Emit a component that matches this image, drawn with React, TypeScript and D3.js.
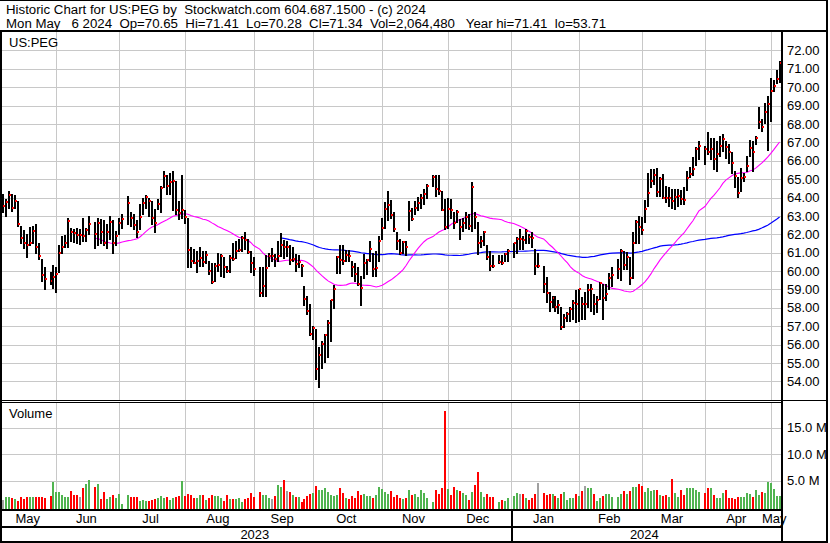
import { useEffect, useRef } from 'react'
import * as d3 from 'd3'

const WIDTH = 830
const HEIGHT = 543
const FONT = "'Liberation Sans', Arial, sans-serif"

// first and last weekday shown; every weekday gets a slot, holidays stay empty
const FIRST_DAY = new Date(2023, 4, 8)
const LAST_DAY = new Date(2024, 4, 6)
const HOLIDAYS = [
  '2023-05-29', '2023-06-19', '2023-07-04', '2023-09-04', '2023-11-23',
  '2023-12-25', '2024-01-01', '2024-01-15', '2024-02-19', '2024-03-29',
]

const MONTH_LABELS = ['May', 'Jun', 'Jul', 'Aug', 'Sep', 'Oct', 'Nov', 'Dec', 'Jan', 'Feb', 'Mar', 'Apr', 'May']
const YEAR_LABELS = ['2023', '2024']
const PRICE_TICKS = [54, 55, 56, 57, 58, 59, 60, 61, 62, 63, 64, 65, 66, 67, 68, 69, 70, 71, 72]
const VOLUME_TICKS = [5, 10, 15]

// one value per trading day, a line per month
const highs = [
  64.2, 63.9, 64.35, 64.2, 64.15, 63.8, 62.45, 62.25, 62.0, 62.4, 62.45, 62.55, 61.55, 60.65, 60.2, 59.95, 60.35,
  60.2, 61.4, 61.9, 61.95, 62.9, 62.35, 62.3, 62.35, 62.3, 62.9, 62.35, 63.0, 62.65, 62.9, 62.85, 62.75, 62.55, 63.0, 62.75, 62.2, 62.9,
  63.1, 64.1, 63.2, 63.1, 62.75, 63.65, 64.0, 64.15, 64.0, 63.8, 63.35, 63.9, 64.65, 65.45, 65.25, 65.35, 65.45, 64.9, 63.8, 65.2,
  63.3, 62.9, 61.3, 61.2, 61.1, 61.3, 61.1, 61.1, 60.55, 60.45, 60.45, 61.0, 60.95, 60.75, 60.3, 60.85, 61.55, 61.65, 61.75, 61.9, 62.1, 61.75, 61.1,
  60.75, 60.2, 60.2, 60.85, 61.0, 61.25, 60.9, 61.65, 62.05, 61.7, 61.65, 61.4, 61.3, 60.9, 60.85, 60.4, 59.2, 58.65, 58.2, 57.0,
  56.85, 55.85, 56.2, 56.6, 57.35, 58.45, 59.25, 60.8, 61.4, 61.4, 61.15, 61.15, 60.55, 60.45, 60.2, 59.75, 60.95, 60.65, 61.65, 61.0, 61.1, 61.9,
  62.9, 63.75, 64.35, 63.85, 63.2, 62.15, 61.75, 61.65, 61.65, 63.8, 63.45, 63.8, 64.05, 64.2, 64.45, 64.75, 65.2, 65.25, 65.25, 64.35, 63.9,
  64.0, 63.9, 63.2, 63.3, 62.85, 62.9, 63.2, 63.1, 64.85, 63.2, 62.65, 61.9, 62.2, 61.4, 61.1, 60.85, 60.85, 60.85, 61.0, 61.2,
  61.55, 61.85, 62.3, 61.9, 62.3, 62.0, 62.1, 61.2, 61.0, 60.25, 59.65, 58.85, 58.65, 58.65, 58.4, 58.05, 57.65, 57.75, 58.05, 58.4, 58.95,
  59.05, 58.6, 58.85, 59.3, 59.3, 58.75, 58.65, 59.4, 59.3, 59.3, 59.9, 60.2, 60.65, 61.2, 61.1, 61.05, 60.75, 62.1, 62.75, 63.0,
  62.95, 63.85, 65.35, 65.55, 65.55, 65.6, 65.1, 65.3, 64.65, 64.55, 64.45, 64.45, 64.45, 64.4, 64.55, 65.45, 65.65, 66.2, 66.75, 67.1,
  66.8, 67.55, 67.25, 67.25, 67.05, 67.35, 67.45, 67.05, 66.9, 66.45, 65.45, 65.1, 65.6, 65.35, 66.25, 67.15, 67.05, 67.35, 68.9, 68.25, 69.15, 69.5,
  70.5, 70.4, 70.95, 71.41,
]

const lows = [
  63.2, 63.0, 63.45, 63.25, 63.45, 62.45, 61.55, 61.25, 60.75, 61.4, 61.55, 61.0, 60.65, 59.45, 59.0, 59.3, 59.1,
  58.85, 59.95, 61.0, 61.3, 61.3, 61.65, 61.6, 61.55, 61.45, 61.65, 61.65, 62.0, 61.25, 61.4, 61.55, 61.4, 61.25, 61.75, 61.0, 61.4, 62.0,
  62.35, 62.55, 62.45, 62.3, 61.85, 62.3, 63.1, 63.45, 63.0, 62.55, 62.1, 63.35, 63.2, 64.55, 64.2, 64.2, 63.3, 63.1, 62.85, 62.9,
  62.6, 60.2, 60.2, 60.45, 59.95, 60.3, 60.3, 60.45, 59.85, 59.35, 59.45, 60.0, 59.75, 59.7, 59.95, 59.95, 60.6, 60.7, 61.1, 61.1, 61.2, 61.0, 59.95,
  59.8, 58.65, 58.65, 58.65, 60.3, 60.55, 60.25, 60.55, 60.8, 60.7, 60.8, 60.4, 60.55, 60.0, 60.2, 59.75, 58.15, 57.65, 56.5, 56.3,
  54.15, 53.71, 54.75, 55.05, 55.3, 56.2, 58.0, 59.9, 59.9, 60.4, 60.55, 60.55, 59.75, 59.45, 59.25, 58.15, 59.6, 59.85, 60.55, 59.75, 59.75, 60.55,
  61.75, 62.35, 62.75, 62.9, 62.2, 61.2, 60.9, 61.0, 60.85, 62.25, 62.8, 63.1, 63.3, 63.45, 63.65, 64.0, 64.65, 64.1, 64.2, 63.3, 62.3,
  62.35, 62.9, 62.35, 62.65, 61.75, 62.2, 62.35, 62.3, 62.2, 62.35, 60.9, 61.3, 61.4, 60.65, 60.05, 60.2, 60.45, 60.4, 60.55, 60.55,
  60.75, 61.0, 61.2, 61.2, 61.55, 61.55, 61.3, 59.85, 60.2, 58.85, 58.3, 57.85, 58.05, 57.85, 57.7, 56.85, 56.95, 57.3, 57.3, 57.4, 57.25,
  57.3, 57.4, 57.4, 58.05, 57.85, 57.65, 57.75, 58.5, 57.4, 58.4, 59.05, 59.2, 59.6, 59.5, 60.1, 60.1, 59.3, 59.6, 61.5, 61.55,
  62.0, 62.65, 63.55, 64.55, 64.75, 64.1, 64.1, 64.0, 63.75, 63.55, 63.45, 63.35, 63.55, 63.65, 63.65, 64.4, 65.1, 65.2, 65.75, 66.1,
  65.8, 66.35, 66.1, 65.55, 65.45, 66.25, 66.55, 66.15, 65.9, 65.35, 64.55, 64.05, 64.35, 64.9, 65.45, 66.25, 65.45, 66.9, 67.8, 67.6, 68.05, 66.6,
  68.15, 69.8, 70.25, 70.28,
]

const closes = [
  63.55, 63.75, 64.15, 63.45, 63.8, 62.55, 61.8, 61.5, 61.4, 61.55, 62.2, 61.3, 60.8, 59.8, 59.55, 59.45, 59.7,
  59.85, 61.0, 61.3, 61.55, 62.7, 62.15, 62.05, 61.95, 61.95, 61.9, 62.25, 62.55, 62.0, 62.6, 62.1, 61.5, 62.15, 62.65, 61.55, 61.9, 62.6,
  62.85, 63.7, 62.9, 62.5, 62.15, 62.95, 63.7, 64.05, 63.8, 62.9, 62.6, 63.65, 64.5, 65.15, 64.6, 64.85, 64.9, 63.3, 63.15, 63.3,
  62.95, 61.15, 60.55, 60.45, 60.55, 60.7, 60.5, 60.85, 60.0, 59.4, 60.3, 60.35, 60.8, 60.2, 60.0, 60.7, 60.65, 61.1, 61.15, 61.8, 61.7, 61.05, 60.45,
  60.1, 58.8, 59.2, 60.15, 60.8, 60.8, 60.65, 60.8, 61.4, 61.3, 61.3, 60.6, 60.65, 60.4, 60.5, 60.25, 58.5, 57.85, 56.6, 56.9,
  54.65, 55.45, 56.05, 56.5, 57.2, 58.4, 59.0, 60.75, 60.6, 60.55, 60.85, 60.8, 60.2, 59.85, 59.3, 59.1, 60.45, 60.6, 61.2, 60.1, 60.15, 61.65,
  62.35, 63.4, 63.6, 63.05, 62.3, 61.65, 61.0, 61.6, 61.3, 63.25, 62.85, 63.45, 63.7, 64.0, 64.2, 64.65, 65.1, 64.45, 64.35, 63.3, 62.4,
  63.4, 63.3, 62.6, 63.2, 62.4, 62.6, 62.95, 62.45, 64.55, 62.95, 61.5, 61.65, 62.15, 60.75, 60.3, 60.25, 60.5, 60.45, 60.95, 61.1,
  61.5, 61.75, 61.75, 61.7, 62.2, 61.85, 61.8, 60.3, 60.3, 59.3, 58.8, 58.3, 58.55, 58.05, 58.15, 56.95, 57.45, 57.65, 57.95, 58.25, 58.2,
  59.0, 58.2, 58.2, 58.95, 59.0, 58.2, 58.4, 59.35, 58.55, 58.75, 59.6, 59.8, 60.1, 61.1, 60.35, 60.75, 59.6, 61.55, 62.65, 62.4,
  62.25, 63.35, 64.25, 64.9, 65.25, 64.3, 65.0, 64.0, 63.95, 64.0, 63.8, 64.05, 64.1, 63.9, 63.85, 65.05, 65.3, 65.55, 66.65, 66.8,
  66.65, 66.45, 66.65, 66.1, 66.35, 66.8, 67.2, 66.75, 66.45, 65.9, 65.15, 64.25, 65.05, 65.1, 65.7, 66.7, 66.5, 67.25, 68.1, 67.85, 68.65, 69.1,
  69.8, 70.05, 70.45, 71.34,
]

// millions of shares
const volumes = [
  1.3, 1.9, 1.8, 1.75, 1.5, 1.2, 1.8, 1.6, 1.95, 1.95, 1.95, 1.95, 1.9, 1.8, 1.75, 2.08, 4.72,
  2.83, 2.83, 2.2, 1.95, 1.95, 3.08, 2.26, 2.26, 1.95, 3.58, 4.34, 5.09, 3.77, 4.34, 1.51, 2.83, 1.51, 1.95, 2.26, 1.76, 2.45,
  0.57, 2.26, 1.95, 1.82, 1.95, 1.19, 1.32, 1.19, 1.19, 1.32, 1.51, 1.76, 2.08, 1.76, 1.95, 1.32, 1.76, 1.95, 2.08, 4.9,
  2.08, 2.45, 2.2, 1.76, 1.76, 2.26, 2.26, 1.32, 1.76, 2.26, 2.08, 2.08, 1.76, 1.19, 2.26, 1.57, 1.51, 1.51, 1.76, 1.0, 1.51, 1.76, 2.64,
  1.89, 2.83, 2.26, 2.26, 1.76, 1.51, 2.08, 4.15, 3.71, 5.09, 3.0, 2.83, 2.26, 1.9, 1.9, 1.0, 1.5, 2.1, 2.45, 2.64,
  3.96, 3.2, 3.2, 3.58, 2.83, 2.26, 2.08, 2.26, 3.58, 2.64, 1.7, 1.5, 2.08, 1.7, 3.0, 2.26, 2.45, 2.08, 2.08, 1.7, 2.26, 3.77,
  3.4, 2.83, 2.45, 3.0, 1.9, 2.26, 1.7, 1.5, 1.7, 3.2, 2.26, 2.45, 1.9, 3.2, 2.64, 1.7, 0.95, 3.2, 2.45, 3.58, 18.1,
  3.4, 2.26, 3.77, 3.2, 3.0, 2.64, 2.26, 1.32, 2.83, 4.15, 6.67, 2.83, 1.9, 2.45, 1.9, 1.9, 0.95, 1.32, 1.13, 1.7,
  2.08, 2.64, 2.45, 2.45, 1.7, 1.32, 1.7, 2.45, 4.5, 2.64, 2.26, 2.45, 2.45, 2.08, 1.7, 2.45, 2.83, 1.32, 1.7, 1.7, 2.45,
  2.08, 3.0, 3.96, 3.58, 3.58, 2.45, 1.13, 1.7, 2.08, 2.45, 2.45, 1.9, 1.9, 2.45, 3.0, 2.45, 3.0, 3.77, 3.77, 4.34,
  4.03, 2.83, 3.58, 3.0, 3.2, 3.2, 2.26, 2.08, 2.26, 1.9, 5.28, 2.64, 1.9, 3.2, 2.26, 3.58, 3.58, 3.58, 3.2, 2.83,
  2.64, 3.58, 3.58, 2.26, 1.7, 1.7, 2.64, 3.2, 1.7, 1.7, 1.5, 1.9, 1.9, 1.9, 2.64, 2.45, 1.9, 3.2, 2.26, 2.83, 2.64, 4.72,
  4.53, 3.4, 2.08, 2.06,
]

const HEADER_1 = 'Historic Chart for US:PEG by  Stockwatch.com 604.687.1500 - (c) 2024'
const HEADER_2 = 'Mon May   6 2024  Op=70.65  Hi=71.41  Lo=70.28  Cl=71.34  Vol=2,064,480   Year hi=71.41  lo=53.71'

const PLOT_LEFT = 2
const PLOT_RIGHT = 781
const PRICE_TOP = 32
const PRICE_BOTTOM = 400
const VOL_TOP = 403
const VOL_BOTTOM = 509

const GRID = '#c8c8c8'

function movingAverage(values: number[], n: number): (number | null)[] {
  return values.map((_, i) => (i < n - 1 ? null : d3.mean(values.slice(i - n + 1, i + 1)) ?? null))
}

export default function App() {
  const svgRef = useRef<SVGSVGElement>(null)

  useEffect(() => {
    if (!svgRef.current) return
    const fmt = d3.timeFormat('%Y-%m-%d')
    const holidaySet = new Set(HOLIDAYS)

    // weekday slots
    const slots = d3.timeDay
      .range(FIRST_DAY, d3.timeDay.offset(LAST_DAY, 1))
      .filter((d) => d.getDay() !== 0 && d.getDay() !== 6)
    const tradingSlots = slots.map((d, i) => ({ d, i })).filter((s) => !holidaySet.has(fmt(s.d)))

    const bars = tradingSlots.map((s, k) => ({
      slot: s.i,
      high: highs[k],
      low: lows[k],
      close: closes[k],
      volume: volumes[k],
      prev: k > 0 ? closes[k - 1] : null,
    }))

    const x = d3.scaleLinear().domain([0, slots.length - 1]).range([2.7, 779.6])
    const yPrice = d3.scaleLinear().domain([53, 73]).range([399.7, 32.1])
    const yVol = d3.scaleLinear().domain([0, 20]).range([507, 401])
    const px = (slot: number) => Math.round(x(slot))

    // month boundaries: last weekday slot on or before the 1st
    const monthStarts = d3.timeMonth.range(new Date(2023, 5, 1), new Date(2024, 5, 1))
    const boundaries = monthStarts.map((m) => d3.bisectRight(slots, m) - 1)
    const yearSlot = d3.bisectRight(slots, new Date(2024, 0, 1)) - 1

    const svg = d3.select(svgRef.current)
    svg.selectAll('*').remove()

    svg.append('rect').attr('width', WIDTH).attr('height', HEIGHT).attr('fill', '#fff')

    const grid = svg.append('g').attr('stroke', GRID).attr('stroke-width', 1).attr('shape-rendering', 'crispEdges')
    PRICE_TICKS.forEach((t) => {
      const y = Math.round(yPrice(t)) + 0.5
      grid.append('line').attr('x1', PLOT_LEFT).attr('x2', PLOT_RIGHT).attr('y1', y).attr('y2', y)
    })
    VOLUME_TICKS.forEach((t) => {
      const y = Math.round(yVol(t)) + 0.5
      grid.append('line').attr('x1', PLOT_LEFT).attr('x2', PLOT_RIGHT).attr('y1', y).attr('y2', y)
    })
    boundaries.forEach((b) => {
      const xx = px(b) + 0.5
      grid.append('line').attr('x1', xx).attr('x2', xx).attr('y1', PRICE_TOP).attr('y2', PRICE_BOTTOM)
      grid.append('line').attr('x1', xx).attr('x2', xx).attr('y1', VOL_TOP).attr('y2', VOL_BOTTOM)
    })

    // moving averages
    const closeSeries = bars.map((b) => b.close)
    const maLine = d3
      .line<{ slot: number; v: number | null }>()
      .defined((d) => d.v !== null)
      .x((d) => x(d.slot))
      .y((d) => yPrice(d.v as number))
    const ma30 = movingAverage(closeSeries, 30).map((v, k) => ({ slot: bars[k].slot, v }))
    const ma90 = movingAverage(closeSeries, 90).map((v, k) => ({ slot: bars[k].slot, v }))
    svg.append('path').datum(ma90).attr('d', maLine).attr('fill', 'none').attr('stroke', '#0000ff').attr('stroke-width', 1.2)
    svg.append('path').datum(ma30).attr('d', maLine).attr('fill', 'none').attr('stroke', '#ff00ff').attr('stroke-width', 1.1)

    // price bars
    const pg = svg.append('g').attr('shape-rendering', 'crispEdges')
    bars.forEach((b) => {
      const xx = px(b.slot)
      const yh = Math.round(yPrice(b.high))
      const yl = Math.round(yPrice(b.low))
      pg.append('rect').attr('x', xx - 1).attr('y', yh).attr('width', 2).attr('height', Math.max(1, yl - yh + 1)).attr('fill', '#000')
      const yc = Math.round(yPrice(b.close))
      pg.append('rect').attr('x', xx).attr('y', yc - 1).attr('width', 2).attr('height', 2).attr('fill', '#ff0000')
    })

    // volume bars
    const vg = svg.append('g').attr('shape-rendering', 'crispEdges')
    bars.forEach((b) => {
      const xx = px(b.slot)
      const yt = Math.round(yVol(b.volume))
      const colour = b.prev === null || b.close === b.prev ? '#a0a0a0' : b.close > b.prev ? '#50b450' : '#ff0000'
      vg.append('rect').attr('x', xx - 1).attr('y', yt).attr('width', 2).attr('height', VOL_BOTTOM - yt).attr('fill', colour)
    })

    // frame
    const frame = svg.append('g').attr('fill', '#000').attr('shape-rendering', 'crispEdges')
    frame.append('rect').attr('x', 0).attr('y', 0).attr('width', 828).attr('height', 1)
    frame.append('rect').attr('x', 0).attr('y', 30).attr('width', 828).attr('height', 2)
    frame.append('rect').attr('x', 0).attr('y', 30).attr('width', 2).attr('height', HEIGHT - 30)
    frame.append('rect').attr('x', PLOT_RIGHT).attr('y', 30).attr('width', 2).attr('height', HEIGHT - 30)
    frame.append('rect').attr('x', 826).attr('y', 0).attr('width', 2).attr('height', HEIGHT)
    frame.append('rect').attr('x', 0).attr('y', 400).attr('width', 828).attr('height', 1)
    frame.append('rect').attr('x', 0).attr('y', 402).attr('width', PLOT_RIGHT).attr('height', 1)
    frame.append('rect').attr('x', 0).attr('y', VOL_BOTTOM).attr('width', PLOT_RIGHT + 2).attr('height', 2)
    frame.append('rect').attr('x', 0).attr('y', 526).attr('width', PLOT_RIGHT + 2).attr('height', 2)
    frame.append('rect').attr('x', 0).attr('y', 541).attr('width', 828).attr('height', 2)
    frame.append('rect').attr('x', px(yearSlot)).attr('y', VOL_BOTTOM).attr('width', 1.5).attr('height', 32)

    // text
    const text = (xx: number, yy: number, s: string, size: number, anchor = 'start') =>
      svg
        .append('text')
        .attr('x', xx)
        .attr('y', yy)
        .attr('font-family', FONT)
        .attr('font-size', size)
        .attr('text-anchor', anchor)
        .attr('fill', '#000')
        .style('white-space', 'pre')
        .text(s)

    text(6, 14, HEADER_1, 13.25)
    text(6, 27.5, HEADER_2, 13.25)
    text(9, 46.5, 'US:PEG', 13)
    text(9, 418, 'Volume', 13)

    PRICE_TICKS.forEach((t) => text(787, yPrice(t) + 4.6, t.toFixed(2), 13))
    VOLUME_TICKS.forEach((t) => text(787, yVol(t) + 4.7, `${t.toFixed(1)} M`, 13))

    const edges = [x.range()[0] - 0.7, ...boundaries.map((b) => x(b)), PLOT_RIGHT]
    MONTH_LABELS.forEach((m, i) => {
      text((edges[i] + edges[i + 1]) / 2 - 1.5, 522.5, m, 13, 'middle')
    })
    const yearEdges = [PLOT_LEFT, x(yearSlot), PLOT_RIGHT]
    YEAR_LABELS.forEach((yLabel, i) => {
      text((yearEdges[i] + yearEdges[i + 1]) / 2 - 1.5, 539, yLabel, 13, 'middle')
    })
  }, [])

  return (
    <div style={{ position: 'absolute', left: 0, top: 0 }}>
      <svg ref={svgRef} width={WIDTH} height={HEIGHT} style={{ display: 'block' }} />
    </div>
  )
}
